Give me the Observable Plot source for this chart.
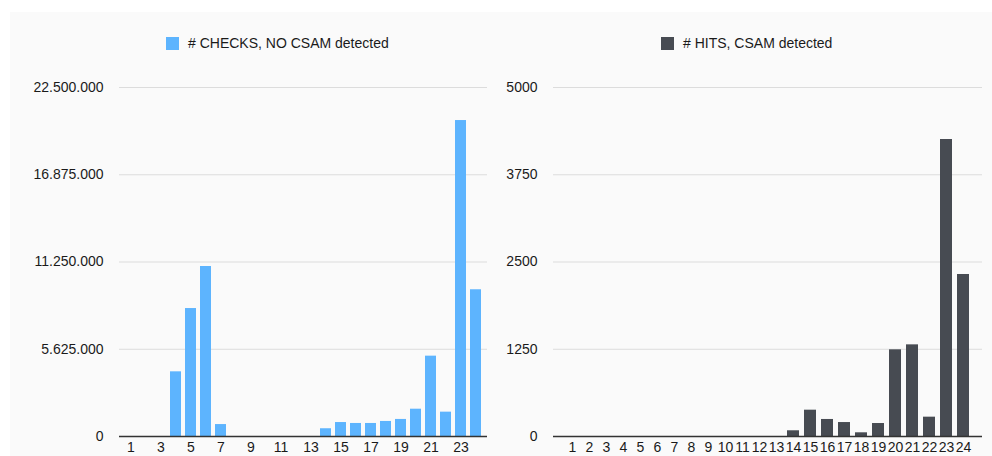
<!DOCTYPE html>
<html>
<head>
<meta charset="utf-8">
<script src="https://cdn.jsdelivr.net/npm/d3@7"></script>
<script src="https://cdn.jsdelivr.net/npm/@observablehq/plot@0.6"></script>
<style>
  html, body { margin: 0; padding: 0; background: #ffffff; }
  body { width: 992px; height: 456px; position: relative; overflow: hidden;
         font-family: "Liberation Sans", Arial, Helvetica, sans-serif; }
  #panel { position: absolute; left: 10px; top: 12px; width: 982px; height: 444px; background: #fafafa; }
  .chart { position: absolute; top: 70px; }
  .legend { position: absolute; top: 35px; display: flex; align-items: center;
            font-size: 14px; color: #1a1a1a; white-space: nowrap; }
  .legend .sw { width: 13px; height: 13px; margin-right: 9px; }
</style>
</head>
<body>
<div id="panel"></div>
<div class="legend" id="leg1" style="left:166px"><span class="sw" style="background:#5db4fe"></span><span>#&nbsp;CHECKS, NO CSAM detected</span></div>
<div class="legend" id="leg2" style="left:661px"><span class="sw" style="background:#474b52"></span><span>#&nbsp;HITS, CSAM detected</span></div>
<div class="chart" id="c1" style="left:0px"></div>
<div class="chart" id="c2" style="left:496px"></div>
<script>
const categories = [1,2,3,4,5,6,7,8,9,10,11,12,13,14,15,16,17,18,19,20,21,22,23,24];
const checksNoCsam = [0,0,0,4170000,8250000,10960000,770000,0,0,0,0,0,0,500000,900000,840000,840000,970000,1100000,1760000,5180000,1570000,20370000,9460000];
const hitsCsam = [0,0,0,0,0,0,0,0,0,0,0,0,0,82,377,244,200,53,186,1242,1313,277,4255,2321];
const leftTicks = [0, 5625000, 11250000, 16875000, 22500000];
const rightTicks = [0, 1250, 2500, 3750, 5000];
const leftXTicks = [1,3,5,7,9,11,13,15,17,19,21,23];
const rightXTicks = categories;

const dotLocale = d3.formatLocale({decimal: ",", thousands: ".", grouping: [3], currency: ["", "€"]});
const fmtDots = dotLocale.format(",d");

function makeChart(values, color, yTicks, xTicks, yMax, fmt, marginLeft, marginRight, pIn, pOut) {
  const data = categories.map((c, i) => ({cat: c, value: values[i]}));
  return Plot.plot({
    width: 496,
    height: 386,
    marginTop: 17,
    marginBottom: 20,
    marginLeft,
    marginRight,
    style: {background: "transparent", fontSize: "14px", fontFamily: "'Liberation Sans', Arial, Helvetica, sans-serif", color: "#1a1a1a"},
    x: {type: "band", domain: categories, paddingInner: pIn, paddingOuter: pOut, align: 0.5},
    y: {domain: [0, yMax]},
    marks: [
      Plot.gridY(yTicks, {stroke: "#dcdcdc", strokeOpacity: 1, strokeWidth: 1}),
      Plot.barY(data, {x: "cat", y: "value", fill: color}),
      Plot.ruleY([0], {stroke: "#333", strokeWidth: 1.6}),
      Plot.axisY(yTicks, {tickSize: 0, tickPadding: 16, tickFormat: fmt, label: null, fill: "#1a1a1a"}),
      Plot.axisX(xTicks, {tickSize: 0, tickPadding: 6, label: null, fill: "#1a1a1a"})
    ]
  });
}

document.getElementById("c1").append(
  makeChart(checksNoCsam, "#5db4fe", leftTicks, leftXTicks, 22500000, fmtDots, 119, 9, 0.28, 0.14)
);
document.getElementById("c2").append(
  makeChart(hitsCsam, "#474b52", rightTicks, rightXTicks, 5000, d => String(d), 57, 10, 0.32, 0.16)
);
</script>
</body>
</html>
